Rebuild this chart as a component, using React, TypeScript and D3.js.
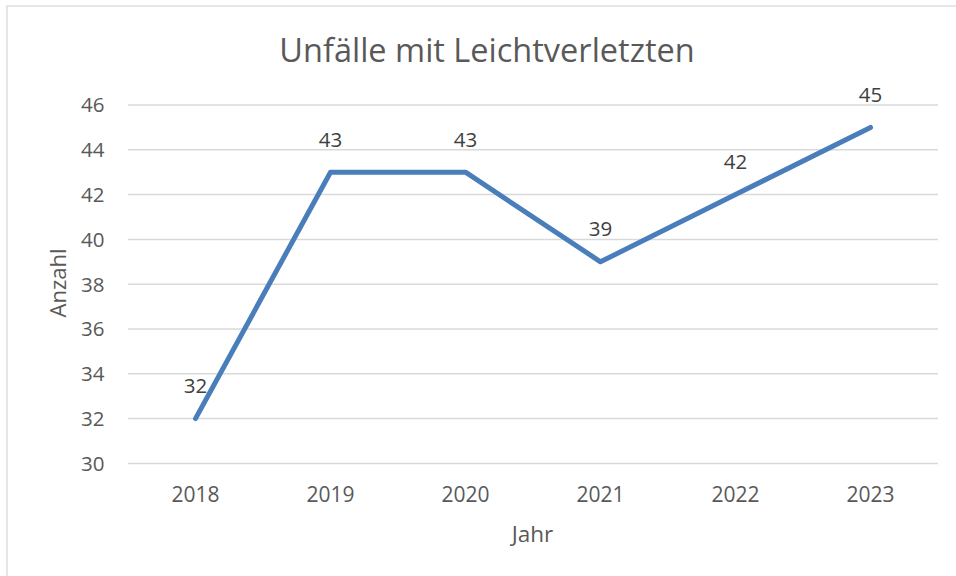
import * as d3 from 'd3';

const years = ['2018', '2019', '2020', '2021', '2022', '2023'];
const counts = [32, 43, 43, 39, 42, 45];
const yTicks = [30, 32, 34, 36, 38, 40, 42, 44, 46];
const chartTitle = 'Unfälle mit Leichtverletzten';
const xTitle = 'Jahr';
const yTitle = 'Anzahl';

const width = 956;
const height = 576;
const font = '"Open Sans", "Noto Sans", sans-serif';

const App = (): JSX.Element => {
  const marginLeft = 128;
  const marginRight = 938;
  const top = 105;
  const bottom = 463.4;

  const x = d3.scaleBand<string>().domain(years).range([marginLeft, marginRight]);
  const y = d3.scaleLinear().domain([30, 46]).range([bottom, top]);

  const cx = (d: string) => (x(d) ?? 0) + x.bandwidth() / 2;

  const line = d3
    .line<number>()
    .x((_, i) => cx(years[i]))
    .y((d) => y(d));

  return (
    <svg
      width={width}
      height={height}
      viewBox={`0 0 ${width} ${height}`}
      style={{ position: 'absolute', left: 0, top: 0, background: '#fff' }}
    >
      <rect x={7} y={6} width={width + 20} height={height + 20} fill="#fff" stroke="#d9d9d9" strokeWidth={1.3} />

      <text x={487} y={62} textAnchor="middle" fontFamily={font} fontSize={32.5} fill="#595959">
        {chartTitle}
      </text>

      {yTicks.map((t) => (
        <g key={t}>
          <line x1={marginLeft} x2={marginRight} y1={y(t)} y2={y(t)} stroke="#d9d9d9" strokeWidth={1.5} />
          <text
            x={104.5}
            y={y(t)}
            dy="0.36em"
            textAnchor="end"
            fontFamily={font}
            fontSize={20.5}
            fill="#595959"
          >
            {t}
          </text>
        </g>
      ))}

      {years.map((yr) => (
        <text key={yr} x={cx(yr)} y={501.5} textAnchor="middle" fontFamily={font} fontSize={21} fill="#595959">
          {yr}
        </text>
      ))}

      <text x={532.5} y={541.5} textAnchor="middle" fontFamily={font} fontSize={22.5} fill="#595959">
        {xTitle}
      </text>

      <text
        transform="translate(65.5,283) rotate(-90)"
        textAnchor="middle"
        fontFamily={font}
        fontSize={22}
        fill="#595959"
      >
        {yTitle}
      </text>

      <path
        d={line(counts) ?? ''}
        fill="none"
        stroke="#4a7ebb"
        strokeWidth={5}
        strokeLinecap="round"
        strokeLinejoin="round"
      />

      {counts.map((c, i) => (
        <text
          key={years[i]}
          x={cx(years[i])}
          y={y(c) - 25.5}
          textAnchor="middle"
          fontFamily={font}
          fontSize={20.5}
          fill="#404040"
        >
          {c}
        </text>
      ))}
    </svg>
  );
};

export default App;
